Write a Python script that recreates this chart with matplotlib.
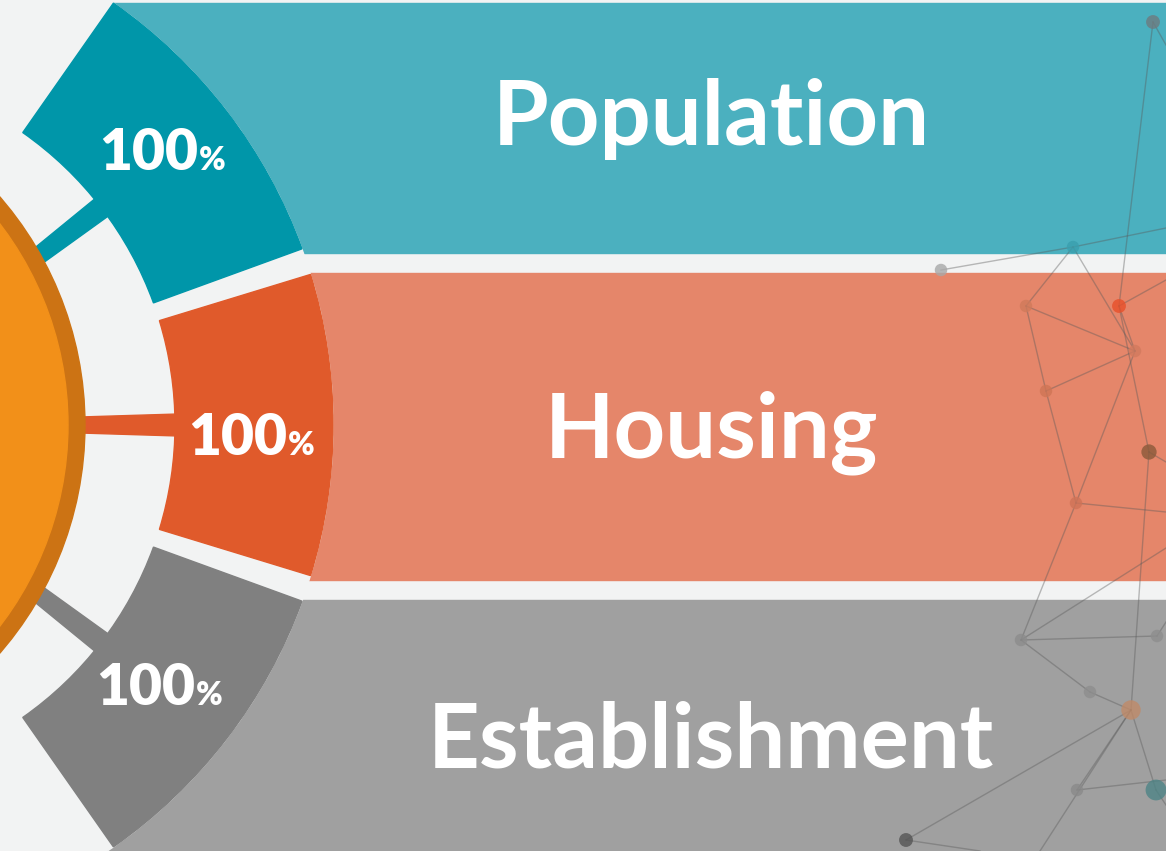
import numpy as np
import matplotlib.pyplot as plt
from matplotlib.patches import Wedge, Circle, Rectangle

# categories and values
categories = ["Population", "Housing", "Establishment"]
values = [100, 100, 100]
seg_colors = ["#0096A9", "#E05A2B", "#808080"]
band_colors = ["#4BB0BF", "#E5866A", "#A0A0A0"]
seg_angles = [(20, 55), (-17, 17), (-55, -20)]   # degrees, counter-clockwise on screen
band_rows = [(3, 253), (273, 580), (600, 851)]   # pixel rows of the bands

# decorative network in the background (pixel coords)
nodes_x = [1153, 1073, 941, 1026, 1119, 1135, 1046, 1149, 1076, 1021, 1090, 1131, 1157, 1077, 1156, 906]
nodes_y = [22, 247, 270, 306, 306, 351, 391, 452, 503, 640, 692, 710, 636, 790, 790, 840]
nodes_c = ["#6E7B80", "#3A9FAE", "#A8A8A8", "#D07A5A", "#E8502A", "#D27A5E", "#CF7555", "#8A5A3A",
           "#CF7357", "#8C8C8C", "#8E8E8E", "#C08A68", "#8E8E8E", "#8A8A8A", "#4E8486", "#555555"]
nodes_s = [10, 9, 9, 9, 10, 9, 9, 11, 9, 9, 9, 14, 9, 9, 15, 10]
edges = [(0, 4), (2, 1), (1, 3), (1, 5), (3, 5), (3, 6), (4, 7), (6, 8), (5, 8), (5, 6),
         (7, 11), (9, 12), (9, 10), (10, 11), (11, 15), (11, 14), (11, 13), (4, 5), (8, 9)]
edges_out = [(0, 1166, 45), (1, 1166, 228), (4, 1166, 280), (8, 1166, 512), (7, 1166, 462),
             (12, 1166, 622), (13, 1166, 780), (14, 1166, 805), (11, 1040, 851), (15, 980, 851),
             (9, 1166, 548)]

CX, CY = -182, 425          # centre of the segment ring
R_IN, R_OUT = 357, 515
OX, OY, R_ORANGE = -263, 425, 348
FONT = "Lato"

fig = plt.figure(figsize=(11.66, 8.51), dpi=100)
ax = fig.add_axes([0, 0, 1, 1])
ax.set_xlim(0, 1166)
ax.set_ylim(851, 0)
ax.axis("off")
fig.patch.set_facecolor("#F2F3F3")

# bands
for (y0, y1), c in zip(band_rows, band_colors):
    ax.add_patch(Rectangle((0, y0), 1166, y1 - y0, color=c, zorder=1))

# network decoration
for a, b in edges:
    ax.plot([nodes_x[a], nodes_x[b]], [nodes_y[a], nodes_y[b]], color="#5A5A5A",
            lw=1.0, alpha=0.4, zorder=2)
for a, x2, y2 in edges_out:
    ax.plot([nodes_x[a], x2], [nodes_y[a], y2], color="#5A5A5A", lw=1.0, alpha=0.4, zorder=2)
ax.scatter(nodes_x, nodes_y, s=np.array(nodes_s) ** 2, c=nodes_c, alpha=0.8,
           edgecolors="none", zorder=3)

# background disc cuts the band ends into arcs
ax.add_patch(Circle((CX, CY), R_OUT, color="#F2F3F3", zorder=4))

# orange hub
ax.add_patch(Circle((OX, OY), R_ORANGE, color="#CC7314", zorder=5))
ax.add_patch(Circle((OX, OY), R_ORANGE - 17, color="#F29019", zorder=6))

# segments and connectors (y axis inverted, so angles are negated)
for (t0, t1), c in zip(seg_angles, seg_colors):
    ax.add_patch(Wedge((CX, CY), R_OUT, -t1, -t0, width=R_OUT - R_IN, color=c, zorder=7))
    mid = (t0 + t1) / 2
    ax.add_patch(Wedge((CX, CY), R_IN + 2, -mid - 1.75, -mid + 1.75, width=120, color=c, zorder=4.5))

# percent labels (x = join between "100" and "%", y = baseline)
label_pos = [(198, 170), (287, 455), (195, 705)]
for (x, y), v in zip(label_pos, values):
    ax.text(x, y, str(v), color="white", fontsize=41, fontweight="heavy",
            family=FONT, ha="right", va="baseline", zorder=8)
    ax.text(x + 1, y, "%", color="white", fontsize=23, fontweight="heavy",
            family=FONT, ha="left", va="baseline", zorder=8)

# band titles (baselines)
title_y = [145, 457, 768]
for name, y in zip(categories, title_y):
    ax.text(711, y, name, color="white", fontsize=65, fontweight="bold",
            family=FONT, ha="center", va="baseline", zorder=8)

fig.savefig("out.png", dpi=100, facecolor=fig.get_facecolor())
